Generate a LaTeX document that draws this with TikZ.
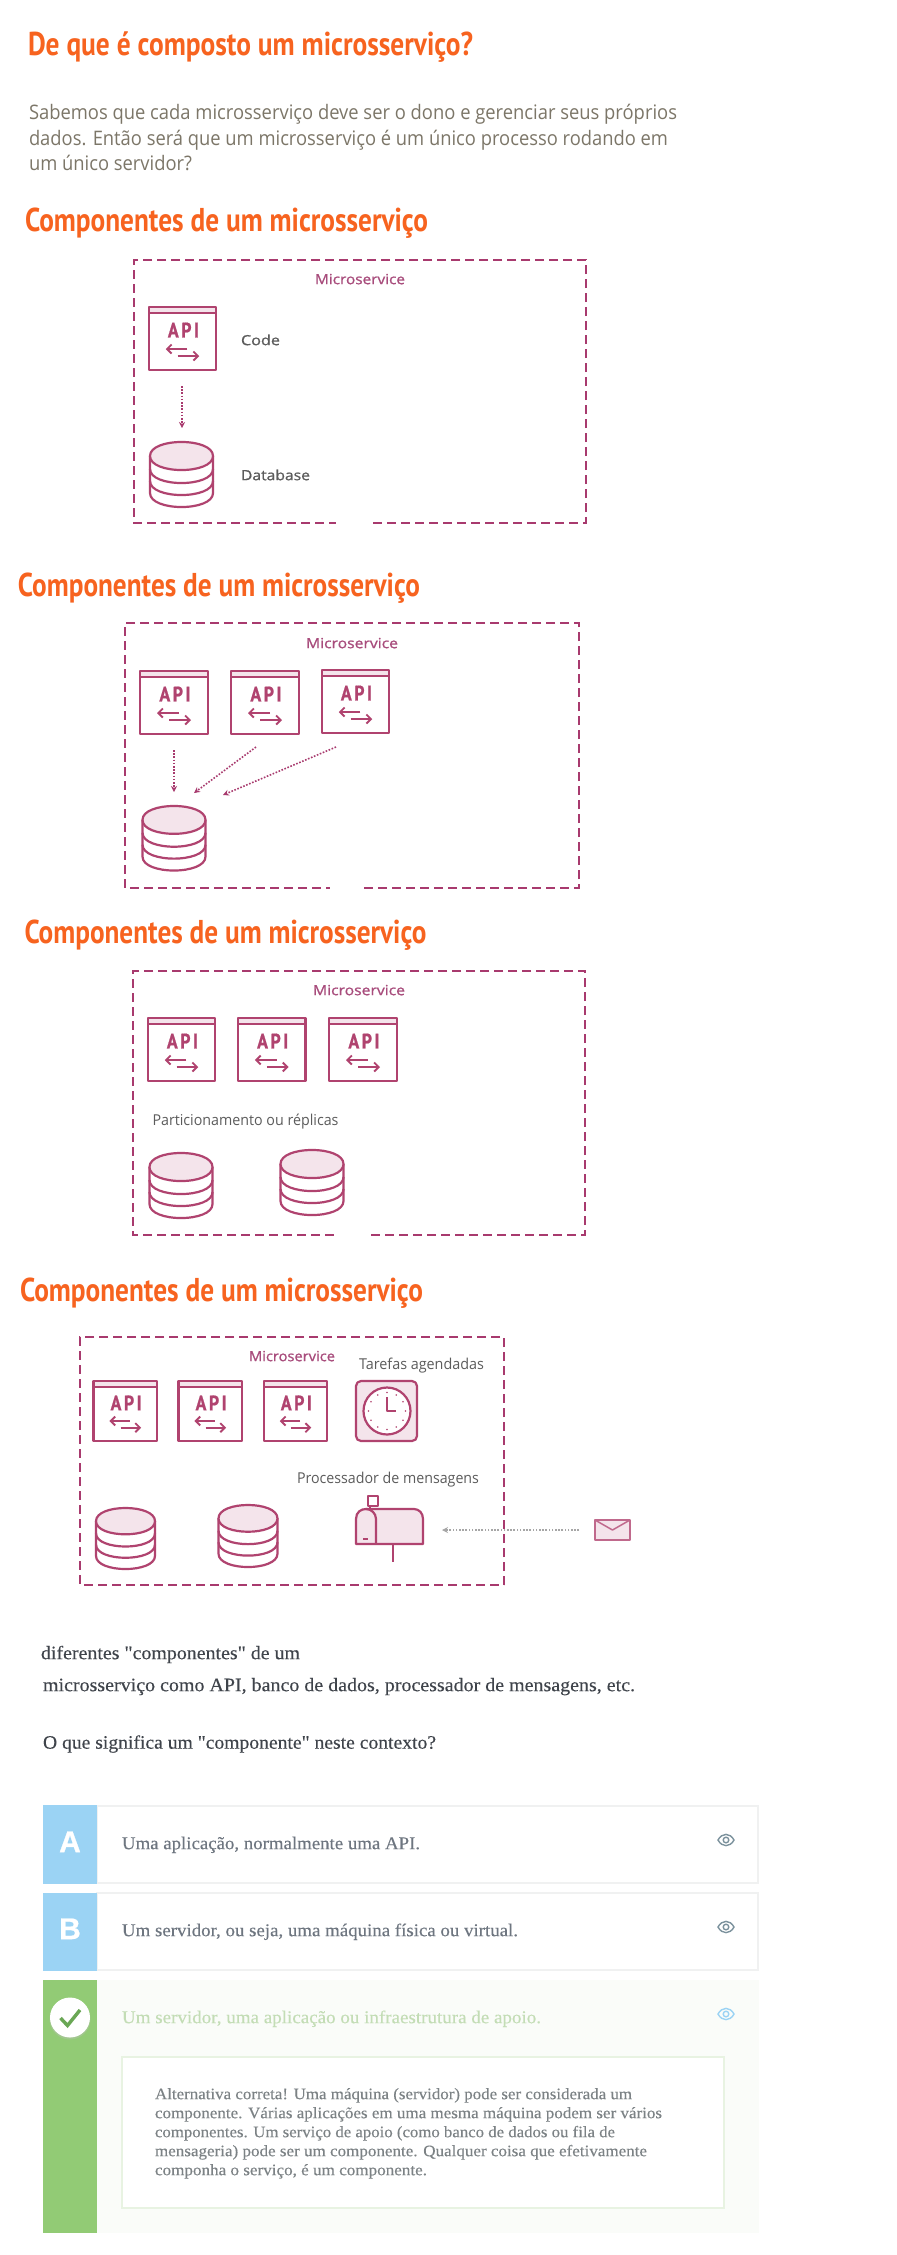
\documentclass[tikz,border=0pt]{standalone}
\usepackage{fontspec}
\newfontfamily\srf[FakeBold=0.2]{Liberation Serif}
\newfontfamily\headfont[FakeStretch=0.82]{PT Sans}
\newfontfamily\apifont[LetterSpace=12,FakeStretch=0.85,FakeBold=0.8]{PT Sans}
\newfontfamily\osfont{Open Sans}
\newfontfamily\osmed[FakeBold=0.9]{Open Sans}
\newfontfamily\letterfont[FakeBold=0.8]{Liberation Sans}
\usetikzlibrary{arrows.meta}
\definecolor{orng}{HTML}{F7631F}
\definecolor{para}{HTML}{7C7668}
\definecolor{plum}{HTML}{A83A6E}
\definecolor{icon}{HTML}{B0436F}
\definecolor{mstext}{HTML}{A84C7C}
\definecolor{tint}{HTML}{F4E4EB}
\definecolor{lbl}{HTML}{5C5C5C}
\definecolor{dark}{HTML}{3F444B}
\definecolor{opt}{HTML}{6E7680}
\definecolor{sky}{HTML}{9BD3F4}
\definecolor{leaf}{HTML}{92CB75}
\definecolor{paleleaf}{HTML}{C3DDB5}
\definecolor{rim}{HTML}{F0F1F1}
\definecolor{inrim}{HTML}{E8F3E2}
\definecolor{wash}{HTML}{FAFCF9}
\definecolor{eyec}{HTML}{7C929D}
\definecolor{note}{HTML}{7C8285}
\definecolor{tick}{HTML}{6AA755}
\newcommand{\fs}[1]{\fontsize{#1}{#1}\selectfont}
\newcommand{\fw}[2]{\resizebox{#1pt}{\height}{#2}}
\tikzset{
  x=1pt,y=-1pt,
  txt/.style={inner sep=0pt,outer sep=0pt,anchor=mid west},
  heading/.style={txt,yshift=-7pt,text=orng,font={\headfont\bfseries\fs{33}}},
  body/.style={txt,yshift=-5pt,text=para,font={\osfont\fs{20}}},
  mslabel/.style={inner sep=0pt,anchor=mid,yshift=-3pt,text=mstext,font={\osmed\fs{14}}},
  greylbl/.style={txt,yshift=-3pt,text=lbl,font={\osfont\fs{15}}},
  medlbl/.style={txt,yshift=-2pt,text=lbl,font={\osmed\fs{14}}},
  serifline/.style={txt,yshift=-3pt,text=dark,font={\srf\fs{19}}},
  option/.style={txt,yshift=-3pt,text=opt,font={\srf\fs{18}}},
  noteline/.style={txt,yshift=-3pt,text=note,font={\srf\fs{16}}},
  letter/.style={inner sep=0pt,anchor=mid,yshift=-7pt,text=white,font={\letterfont\bfseries\fs{30}}},
  msbox/.style={draw=plum,line width=2.2pt,dash pattern=on 9pt off 5pt},
  ico/.style={draw=icon,line width=2.2pt,line join=round},
  flow/.style={draw=plum,line width=1.6pt,dash pattern=on 1.6pt off 1.6pt,-{Stealth[length=6pt,width=6pt]}},
  eyeline/.style={line width=1.4pt},
}
% name, x0, y0, x1, y1
\newcommand{\apiicon}[5]{%
  \begin{scope}[shift={(#2,#3)},xscale={(#4-#2)/68},yscale={(#5-#3)/63}]
    \fill[tint] (0,0) rectangle (68,6);
    \draw[ico] (0,0) rectangle (68,63);
    \draw[ico] (0,6) -- (68,6);
    \coordinate (#1) at (34,32);
    \node[inner sep=0pt,text=icon,font={\apifont\bfseries\fs{21}}] (#1-t) at (35,23) {API};
    \draw[draw=icon,line width=1.9pt,-{Straight Barb[length=4.5pt,width=9pt]}] (39,42) -- (17,42);
    \draw[draw=icon,line width=1.9pt,-{Straight Barb[length=4.5pt,width=9pt]}] (29,49) -- (51,49);
  \end{scope}}
% name, centre x, top y, half width, height
\newcommand{\dbicon}[5]{%
  \begin{scope}[shift={(#2,#3)},xscale={#4/31.5},yscale={#5/65}]
    \coordinate (#1) at (0,32);
    \draw[ico] (-31.5,14) -- (-31.5,51) .. controls (-31.5,69.7) and (31.5,69.7) .. (31.5,51) -- (31.5,14);
    \draw[ico] (-31.5,27) .. controls (-31.5,45.7) and (31.5,45.7) .. (31.5,27);
    \draw[ico] (-31.5,39) .. controls (-31.5,57.7) and (31.5,57.7) .. (31.5,39);
    \draw[ico,fill=tint] (-31.5,14) .. controls (-31.5,-4.7) and (31.5,-4.7) .. (31.5,14)
       .. controls (31.5,32.7) and (-31.5,32.7) .. cycle;
  \end{scope}}
% name, left, top, right, bottom, gap start, gap end
\newcommand{\msframe}[7]{%
  \draw[msbox] (#7,#5) -- (#4,#5) -- (#4,#3) -- (#2,#3) -- (#2,#5) -- (#6,#5);
  \coordinate (#1) at (#2,#3);}
\newcommand{\eyeicon}[4]{%
  \coordinate (#1) at (#2,#3);
  \draw[eyeline,draw=#4] (#2-8,#3) .. controls (#2-4,#3-7.5) and (#2+4,#3-7.5) .. (#2+8,#3)
    .. controls (#2+4,#3+7.5) and (#2-4,#3+7.5) .. cycle;
  \draw[eyeline,draw=#4] (#2,#3) circle (2.8);}
\begin{document}
\begin{tikzpicture}
\fill[white] (0,0) rectangle (897,2255);
\useasboundingbox (0,0) rectangle (897,2255);

% intro
\node[heading] (h0) at (28,46) {\fw{445}{De que é composto um microsserviço?}};
\node[body] (p1) at (29,112) {\fw{648}{Sabemos que cada microsserviço deve ser o dono e gerenciar seus próprios}};
\node[body] (p2) at (29,138) {\fw{639}{dados. Então será que um microsserviço é um único processo rodando em}};
\node[body] (p3) at (29,163) {\fw{163}{um único servidor?}};

% panel 1
\node[heading] (h1) at (25,222) {\fw{403}{Componentes de um microsserviço}};
\msframe{b1}{134}{260}{586}{523}{336}{373}
\node[mslabel] (m1) at (360,279) {\fw{90}{Microservice}};
\apiicon{a1}{149}{307}{216}{370}
\dbicon{d1}{181.5}{442}{31.5}{65}
\node[medlbl] (c1) at (241,341) {\fw{39}{Code}};
\node[medlbl] (e1) at (241,476) {\fw{69}{Database}};
\coordinate (f1s) at (182,386);
\coordinate (f1e) at (182,428);
\draw[flow] (f1s) -- (f1e);

% panel 2
\node[heading] (h2) at (18,587) {\fw{402}{Componentes de um microsserviço}};
\msframe{b2}{125}{623}{579}{888}{330}{364}
\node[mslabel] (m2) at (352,643) {\fw{92}{Microservice}};
\apiicon{a21}{140}{671}{208}{734}
\apiicon{a22}{231}{671}{299}{734}
\apiicon{a23}{322}{670}{389}{733}
\dbicon{d2}{174}{806}{31.5}{64.5}
\coordinate (f21s) at (174,750);
\coordinate (f21e) at (174,792);
\coordinate (f22s) at (256,747);
\coordinate (f22e) at (194,793);
\coordinate (f23s) at (336,747);
\coordinate (f23e) at (223,795);
\draw[flow] (f21s) -- (f21e);
\draw[flow] (f22s) -- (f22e);
\draw[flow] (f23s) -- (f23e);

% panel 3
\node[heading] (h3) at (24.5,934) {\fw{402}{Componentes de um microsserviço}};
\msframe{b3}{133}{971}{585}{1235}{338}{371}
\node[mslabel] (m3) at (359,990) {\fw{92}{Microservice}};
\apiicon{a31}{148}{1018}{215}{1081}
\apiicon{a32}{238}{1018}{305.5}{1081}
\apiicon{a33}{329}{1018}{397}{1081}
\node[greylbl] (pr) at (152.5,1120) {\fw{186}{Particionamento ou réplicas}};
\dbicon{d31}{181}{1153}{31.5}{65}
\dbicon{d32}{312}{1150}{31.5}{65}

% panel 4
\node[heading] (h4) at (20,1292) {\fw{403}{Componentes de um microsserviço}};
\msframe{b4}{80}{1337}{504}{1585}{504}{504}
\node[mslabel] (m4) at (292,1356) {\fw{86}{Microservice}};
\node[greylbl] (ta) at (359,1364) {\fw{125}{Tarefas agendadas}};
\apiicon{a41}{93.5}{1381}{157}{1441}
\apiicon{a42}{178.5}{1381}{242}{1441}
\apiicon{a43}{264}{1381}{327}{1441}
% clock
\draw[ico,fill=tint,rounded corners=5pt] (356,1381) rectangle (417,1441);
\draw[ico,fill=white] (387,1411) circle (23.5);
\coordinate (clk) at (387,1411);
\draw[ico,line width=1.8pt] (387,1397) -- (387,1411) -- (396,1411);
\foreach \a in {0,30,...,330}{\fill[icon] (387,1411) ++(\a:18.5) circle (0.9);}
\node[greylbl] (pm) at (297,1478) {\fw{182}{Processador de mensagens}};
\dbicon{d41}{125.5}{1508}{29.5}{61}
\dbicon{d42}{248}{1505}{29.5}{62}
% mailbox
\draw[ico] (393,1544) -- (393,1562);
\draw[ico,line width=1.7pt] (370,1506) -- (370,1510);
\draw[ico,line width=1.7pt,fill=white] (368,1496) rectangle (378,1506);
\draw[ico,fill=tint] (356,1544) -- (356,1519) .. controls (356,1512) and (361,1509) .. (366,1509)
  -- (414,1509) .. controls (419,1509) and (423,1513) .. (423,1519) -- (423,1544) -- cycle;
\draw[ico] (376,1544) -- (376,1519) .. controls (376,1513) and (371,1509) .. (366,1509);
\draw[ico,line width=1.4pt] (363,1539) -- (368,1539);
\coordinate (mbx) at (389,1530);
% envelope
\draw[ico,line width=1.5pt,draw=icon!80,fill=tint] (595,1520) rectangle (630,1540);
\draw[ico,line width=1.5pt,draw=icon!80] (595,1520) -- (612.5,1530) -- (630,1520);
\coordinate (envs) at (579,1530);
\coordinate (mbxe) at (442,1530);
\draw[flow,draw=gray!70] (envs) -- (mbxe);

% question text
\node[serifline] (q1) at (41,1654) {\fw{259}{diferentes "componentes" de um}};
\node[serifline] (q2) at (43,1686) {\fw{592}{microsserviço como API, banco de dados, processador de mensagens, etc.}};
\node[serifline] (q3) at (43,1743.5) {\fw{393}{O que significa um "componente" neste contexto?}};

% option A
\draw[draw=rim,line width=2pt,fill=white] (97,1806) rectangle (758,1883);
\fill[sky] (43,1805) rectangle (97,1884);
\node[letter] (la) at (70,1843) {A};
\node[option] (ta1) at (122,1844) {\fw{298}{Uma aplicação, normalmente uma API.}};
\eyeicon{ea}{726}{1840}{eyec}
% option B
\draw[draw=rim,line width=2pt,fill=white] (97,1893) rectangle (758,1970);
\fill[sky] (43,1892.5) rectangle (97,1971);
\node[letter] (lb) at (70,1930) {B};
\node[option] (tb1) at (122,1931) {\fw{396}{Um servidor, ou seja, uma máquina física ou virtual.}};
\eyeicon{eb}{726}{1927}{eyec}
% option C
\fill[wash] (97,1979.5) rectangle (759,2232.5);
\fill[leaf] (43,1979.5) rectangle (97,2232.5);
\fill[black!25,opacity=.35] (70,2019) circle (20.5);
\fill[white] (70,2017.5) circle (20);
\coordinate (ck) at (70,2017.5);
\draw[tick,line width=3.4pt] (60.5,2018) -- (67.5,2025.5) -- (80,2010);
\node[option,text=paleleaf] (tc1) at (122,2018) {\fw{419}{Um servidor, uma aplicação ou infraestrutura de apoio.}};
\eyeicon{ec}{726}{2014}{sky}
\draw[draw=inrim,line width=2pt,fill=white] (122,2056.5) rectangle (724,2207.5);
\node[noteline] (n1) at (155,2094) {\fw{477}{Alternativa correta! Uma máquina (servidor) pode ser considerada um}};
\node[noteline] (n2) at (155,2113) {\fw{507}{componente. Várias aplicações em uma mesma máquina podem ser vários}};
\node[noteline] (n3) at (155,2132) {\fw{460}{componentes. Um serviço de apoio (como banco de dados ou fila de}};
\node[noteline] (n4) at (155,2151) {\fw{492}{mensageria) pode ser um componente. Qualquer coisa que efetivamente}};
\node[noteline] (n5) at (155,2170) {\fw{272}{componha o serviço, é um componente.}};
\end{tikzpicture}
\end{document}
